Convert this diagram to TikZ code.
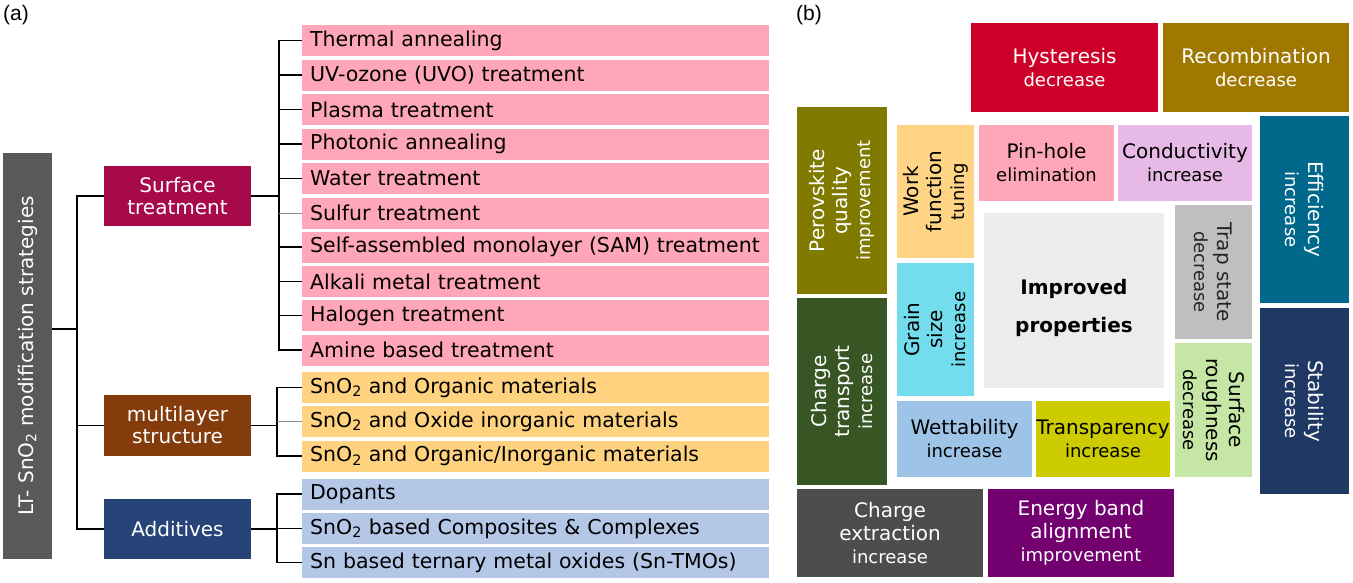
\documentclass[tikz,border=0pt]{standalone}
\usepackage{fontspec}
\setmainfont{DejaVu Sans}
\newfontfamily\labfont{Liberation Sans}
\newcommand\Lg{\fontsize{20}{23}\selectfont}
\newcommand\Sm{\fontsize{18}{22}\selectfont}
\newcommand\Rw{\fontsize{20.5}{24}\selectfont}
\definecolor{rootgray}{RGB}{89,89,89}
\definecolor{surfc}{RGB}{166,10,74}
\definecolor{multic}{RGB}{132,60,12}
\definecolor{addc}{RGB}{38,68,120}
\definecolor{pinkr}{RGB}{255,167,184}
\definecolor{oranger}{RGB}{255,210,128}
\definecolor{bluer}{RGB}{180,199,231}
\definecolor{hystc}{RGB}{204,0,41}
\definecolor{recombc}{RGB}{160,120,0}
\definecolor{perovc}{RGB}{128,122,0}
\definecolor{workc}{RGB}{255,212,133}
\definecolor{conductc}{RGB}{230,185,230}
\definecolor{efficc}{RGB}{0,104,139}
\definecolor{stabc}{RGB}{31,56,100}
\definecolor{grainc}{RGB}{115,221,237}
\definecolor{improvc}{RGB}{236,236,236}
\definecolor{trapc}{RGB}{191,191,191}
\definecolor{roughc}{RGB}{197,230,164}
\definecolor{ctransc}{RGB}{55,86,35}
\definecolor{wettc}{RGB}{157,195,230}
\definecolor{transpc}{RGB}{204,204,0}
\definecolor{cextrc}{RGB}{77,77,77}
\definecolor{energyc}{RGB}{114,0,110}
\newcommand\hbx[7]{\node[box,#6,minimum width={(#4-#2)*1pt},minimum height={(#5-#3)*1pt}] (#1) at ({(#2+#4)/2},{(#3+#5)/2}) {#7};}
\newcommand\vbx[8]{\node[box,#6,rotate=#7,minimum width={(#5-#3)*1pt},minimum height={(#4-#2)*1pt}] (#1) at ({(#2+#4)/2},{(#3+#5)/2}) {#8};}
\begin{document}
\begin{tikzpicture}[x=1pt,y=-1pt,
  box/.style={inner sep=0pt, align=center, font=\Lg, draw=none},
  rowbox/.style={anchor=west, minimum width=467pt, minimum height=31pt, text width=451pt, inner xsep=8pt, inner ysep=0pt, align=left, font=\Rw, text=black},
  conn/.style={line width=1.4pt, black},
  connlite/.style={line width=0.8pt, black!45},
  panlab/.style={anchor=west, inner sep=0pt, font=\labfont\fontsize{21}{24}\selectfont}]
\useasboundingbox (0,0) rectangle (1353,582);
% ---------- panel (a)
\node[panlab] (la) at (3,15) {(a)};
\vbx{root}{3}{153}{52}{559}{fill=rootgray,text=white}{90}{LT- SnO\textsubscript{2} modification strategies}
\hbx{surf}{104}{166}{251}{226}{fill=surfc,text=white,font=\fontsize{20}{22}\selectfont}{Surface\\treatment}
\hbx{multi}{104}{395}{251}{456}{fill=multic,text=white,font=\fontsize{20}{22}\selectfont}{multilayer\\structure}
\hbx{add}{104}{499}{251}{559}{fill=addc,text=white}{Additives}
% rows
\node[rowbox,fill=pinkr] (t1) at (302,40.5) {Thermal annealing};
\node[rowbox,fill=pinkr] (t2) at (302,75) {UV-ozone (UVO) treatment};
\node[rowbox,fill=pinkr] (t3) at (302,109.5) {Plasma treatment};
\node[rowbox,fill=pinkr] (t4) at (302,144) {Photonic annealing};
\node[rowbox,fill=pinkr] (t5) at (302,178.5) {Water treatment};
\node[rowbox,fill=pinkr] (t6) at (302,213) {Sulfur treatment};
\node[rowbox,fill=pinkr] (t7) at (302,247) {Self-assembled monolayer (SAM) treatment};
\node[rowbox,fill=pinkr] (t8) at (302,281.5) {Alkali metal treatment};
\node[rowbox,fill=pinkr] (t9) at (302,315.5) {Halogen treatment};
\node[rowbox,fill=pinkr] (t10) at (302,350) {Amine based treatment};
\node[rowbox,fill=oranger] (m1) at (302,387.5) {SnO\textsubscript{2} and Organic materials};
\node[rowbox,fill=oranger] (m2) at (302,421.5) {SnO\textsubscript{2} and Oxide inorganic materials};
\node[rowbox,fill=oranger] (m3) at (302,456) {SnO\textsubscript{2} and Organic/Inorganic materials};
\node[rowbox,fill=bluer] (a1) at (302,494) {Dopants};
\node[rowbox,fill=bluer] (a2) at (302,528.5) {SnO\textsubscript{2} based Composites \& Complexes};
\node[rowbox,fill=bluer] (a3) at (302,562.5) {Sn based ternary metal oxides (Sn-TMOs)};
% connectors
\coordinate (J) at (77,329);
\coordinate (S) at (279,0);
\coordinate (M) at (277,0);
\coordinate (A) at (277,0);
\draw[conn] (root.south |- J) -- (J);
\draw[conn] (surf.west) -- (surf.west -| J) -- (add.west -| J) -- (add.west);
\draw[conn] (multi.west) -- (multi.west -| J);
\draw[conn] (surf.east) -- (surf.east -| S);
\draw[conn] (t1.west) -- (t1.west -| S) -- (t10.west -| S) -- (t10.west);
\foreach \r in {t2,t3,t4,t5,t7,t8,t9} \draw[conn] (\r.west) -- (\r.west -| S);
\draw[connlite] (t6.west) -- (t6.west -| S);
\draw[conn] (multi.east) -- (multi.east -| M);
\draw[conn] (m1.west) -- (m1.west -| M) -- (m3.west -| M) -- (m3.west);
\draw[connlite] (m2.west) -- (m2.west -| M);
\draw[conn] (add.east) -- (add.east -| A);
\draw[conn] (a1.west) -- (a1.west -| A) -- (a3.west -| A) -- (a3.west);
\draw[conn] (a2.west) -- (a2.west -| A);
% ---------- panel (b)
\node[panlab] (lb) at (796,15) {(b)};
\hbx{hyst}{971}{23}{1158}{112}{fill=hystc,text=white}{Hysteresis\\{\Sm decrease}}
\hbx{recomb}{1163}{23}{1349}{112}{fill=recombc,text=white}{Recombination\\{\Sm decrease}}
\vbx{perov}{797}{107}{887}{294}{fill=perovc,text=white}{90}{Perovskite\\quality\\{\Sm improvement}}
\vbx{work}{897}{125}{974}{258}{fill=workc,text=black}{90}{Work\\function\\{\Sm tuning}}
\hbx{pin}{979}{125}{1114}{201}{fill=pinkr,text=black}{Pin-hole\\{\Sm elimination}}
\hbx{cond}{1118}{125}{1252}{201}{fill=conductc,text=black}{Conductivity\\{\Sm increase}}
\vbx{eff}{1260}{116}{1349}{303}{fill=efficc,text=white}{-90}{Efficiency\\{\Sm increase}}
\vbx{stab}{1260}{308}{1349}{494}{fill=stabc,text=white}{-90}{Stability\\{\Sm increase}}
\vbx{grain}{897}{263}{974}{396}{fill=grainc,text=black}{90}{Grain\\size\\{\Sm increase}}
\hbx{impr}{984}{213}{1164}{388}{fill=improvc}{}
\node[align=center, inner sep=0pt, font=\Lg\bfseries, text=black] (imprt) at (1074,308) {Improved\\[15pt]properties};
\vbx{trap}{1175}{205}{1252}{339}{fill=trapc,text=black!85}{-90}{Trap state\\{\Sm decrease}}
\vbx{rough}{1175}{343}{1252}{477}{fill=roughc,text=black}{-90}{Surface\\roughness\\{\Sm decrease}}
\vbx{ctrans}{797}{298}{887}{485}{fill=ctransc,text=white}{90}{Charge\\transport\\{\Sm increase}}
\hbx{wett}{897}{401}{1032}{477}{fill=wettc,text=black}{Wettability\\{\Sm increase}}
\hbx{transp}{1036}{401}{1170}{477}{fill=transpc,text=black}{Transparency\\{\Sm increase}}
\hbx{cextr}{797}{489}{983}{577}{fill=cextrc,text=white}{Charge\\extraction\\{\Sm increase}}
\hbx{energy}{988}{489}{1174}{577}{fill=energyc,text=white}{Energy band\\alignment\\{\Sm improvement}}
\end{tikzpicture}
\end{document}
